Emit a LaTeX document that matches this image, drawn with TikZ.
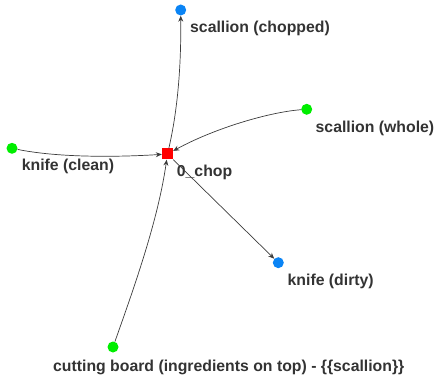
\documentclass[tikz,border=0pt]{standalone}
\usepackage{fontspec}
\setmainfont{Liberation Sans}
\usetikzlibrary{arrows.meta}
\definecolor{ingreen}{HTML}{00EE00}
\definecolor{outblue}{HTML}{0A84F5}
\definecolor{txtgray}{HTML}{333333}
\definecolor{edgegray}{HTML}{3C3C3C}
\begin{document}
\begin{tikzpicture}[x=1pt,y=-1pt,
  inp/.style={circle,fill=ingreen,inner sep=0pt,minimum size=11pt},
  outp/.style={circle,fill=outblue,inner sep=0pt,minimum size=11pt},
  proc/.style={rectangle,fill=red,inner sep=0pt,minimum size=11pt},
  lbl/.style={anchor=west,inner sep=0pt,text=txtgray,font=\fontsize{15.8}{18}\selectfont\bfseries},
  link/.style={draw=edgegray,line width=0.7pt,-{Stealth[length=6pt,width=5pt]}}]
\useasboundingbox (0,0) rectangle (436,382);
\node[proc] (chop) at (167.5,154) {};
\node[outp] (sc) at (180.7,10) {};
\node[inp] (sw) at (306.7,109.3) {};
\node[inp] (kc) at (12,148.3) {};
\node[outp] (kd) at (278.3,262.7) {};
\node[inp] (cb) at (113,347) {};
\node[lbl] (sclbl) at (190,28) {scallion (chopped)};
\node[lbl] (swlbl) at (315.5,128) {scallion (whole)};
\node[lbl] (kclbl) at (21.7,166.7) {knife (clean)};
\node[lbl] (choplbl) at (176.7,172.7) {0\_chop};
\node[lbl] (kdlbl) at (287.5,281) {knife (dirty)};
\node[lbl] (cblbl) at (53,367.5) {cutting board (ingredients on top) - \{\{scallion\}\}};
\draw[link] (kc) .. controls (60,158) and (120,157) .. (chop);
\draw[link] (sw) .. controls (270,112) and (215,128) .. (chop);
\draw[link] (cb) .. controls (135,285) and (158,220) .. (chop);
\draw[link] (chop) -- (kd);
\draw[link] (chop) .. controls (180,100) and (181,50) .. (sc);
\end{tikzpicture}
\end{document}
